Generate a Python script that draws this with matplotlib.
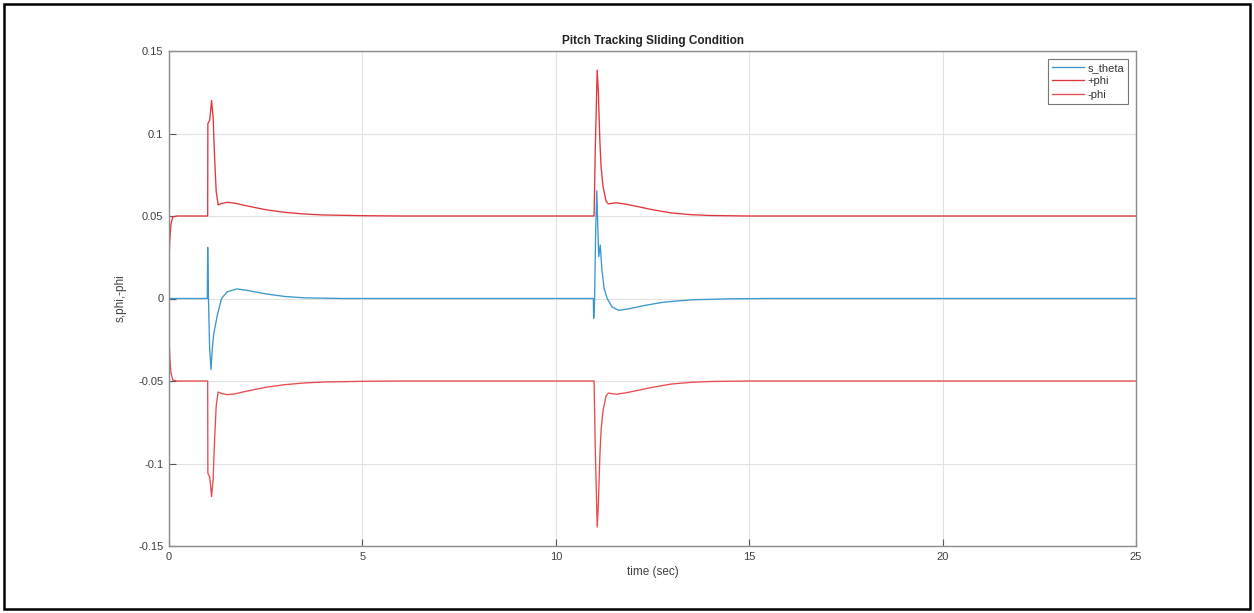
import numpy as np
import matplotlib
matplotlib.use('Agg')
import matplotlib.pyplot as plt
from matplotlib.patches import Rectangle

plt.rcParams['font.family'] = ['Liberation Sans', 'DejaVu Sans']

# boundary layer thickness (+phi); -phi is its mirror
phi_t = [0.0, 0.02, 0.05, 0.1, 0.2, 1.0, 1.005, 1.05, 1.07, 1.10, 1.14, 1.18,
         1.22, 1.27, 1.35, 1.5, 1.7, 2.0, 2.5, 3.0, 3.5, 4.0, 5.0, 6.0,
         10.99, 11.02, 11.07, 11.10, 11.14, 11.17, 11.22, 11.30, 11.36, 11.45,
         11.57, 11.8, 12.1, 12.5, 13.0, 13.5, 14.0, 15.0, 25.0]
phi_v = [0.023, 0.035, 0.045, 0.0495, 0.050, 0.050, 0.106, 0.108, 0.112, 0.120,
         0.110, 0.085, 0.065, 0.0567, 0.0575, 0.0583, 0.0578, 0.0562, 0.0538,
         0.0522, 0.0512, 0.0506, 0.0502, 0.0500,
         0.0500, 0.090, 0.1385, 0.125, 0.095, 0.080, 0.068, 0.059, 0.0573,
         0.0577, 0.0580, 0.0572, 0.0558, 0.0538, 0.0518, 0.0508, 0.0503,
         0.0500, 0.0500]

# sliding surface s_theta
s_t = [0.0, 0.99, 1.0, 1.02, 1.05, 1.086, 1.12, 1.16, 1.25, 1.36, 1.5, 1.75,
       2.0, 2.5, 3.0, 3.5, 4.5, 10.97, 10.98, 11.0, 11.03, 11.06, 11.09, 11.11,
       11.15, 11.19, 11.25, 11.33, 11.45, 11.62, 11.9, 12.3, 12.8, 13.5, 14.5,
       15.5, 25.0]
s_v = [0.0, 0.0, 0.031, 0.0, -0.030, -0.043, -0.030, -0.021, -0.010, 0.0,
       0.0040, 0.0058, 0.0050, 0.0028, 0.0012, 0.0004, 0.0, 0.0, -0.012,
       -0.004, 0.040, 0.0653, 0.040, 0.0253, 0.0324, 0.018, 0.006, 0.0,
       -0.005, -0.0072, -0.0062, -0.0042, -0.0022, -0.0008, -0.0002, 0.0, 0.0]

x_ticks = [0, 5, 10, 15, 20, 25]
y_ticks = [-0.15, -0.1, -0.05, 0, 0.05, 0.1, 0.15]
y_labels = ['-0.15', '-0.1', '-0.05', '0', '0.05', '0.1', '0.15']

fig = plt.figure(figsize=(12.54, 6.13), dpi=100)
ax = fig.add_axes([169 / 1254, 1 - 546 / 613, (1136 - 169) / 1254, (546 - 51) / 613])

ax.plot(s_t, s_v, color='#3a97cc', lw=0.95, label='s_theta')
ax.plot(phi_t, phi_v, color='#e0363b', lw=0.95, label='+phi')
ax.plot(phi_t, -np.array(phi_v), color='#e84a4f', lw=0.95, label='-phi')

ax.set_xlim(0, 25)
ax.set_ylim(-0.15, 0.15)
ax.set_xticks(x_ticks)
ax.set_yticks(y_ticks)
ax.set_yticklabels(y_labels)
ax.grid(True, color='#e2e2e2', lw=0.8)
ax.set_axisbelow(True)
ax.tick_params(direction='in', length=5, width=0.8, colors='#555555',
               labelsize=8, labelcolor='#404040', pad=4)
for sp in ax.spines.values():
    sp.set_color('#8c8c8c')
    sp.set_linewidth(1.0)

ax.set_title('Pitch Tracking Sliding Condition', fontsize=8.5, fontweight='bold',
             color='#222222', pad=5)
ax.set_xlabel('time (sec)', fontsize=8.5, color='#404040', labelpad=3)
ax.set_ylabel('s,phi,-phi', fontsize=8.5, color='#404040', labelpad=8)

leg = ax.legend(loc='upper right', fontsize=8, frameon=True, fancybox=False,
                handlelength=2.9, handletextpad=0.3, borderpad=0.35,
                labelspacing=0.32, borderaxespad=0.7)
leg.get_frame().set_edgecolor('#555555')
leg.get_frame().set_linewidth(0.8)
for txt in leg.get_texts():
    txt.set_color('#333333')

fig.patches.append(Rectangle((4 / 1254, 4 / 613), 1246 / 1254, 605 / 613,
                             transform=fig.transFigure, fill=False,
                             edgecolor='black', lw=1.8))

fig.savefig('out.png', dpi=100, facecolor='white')
